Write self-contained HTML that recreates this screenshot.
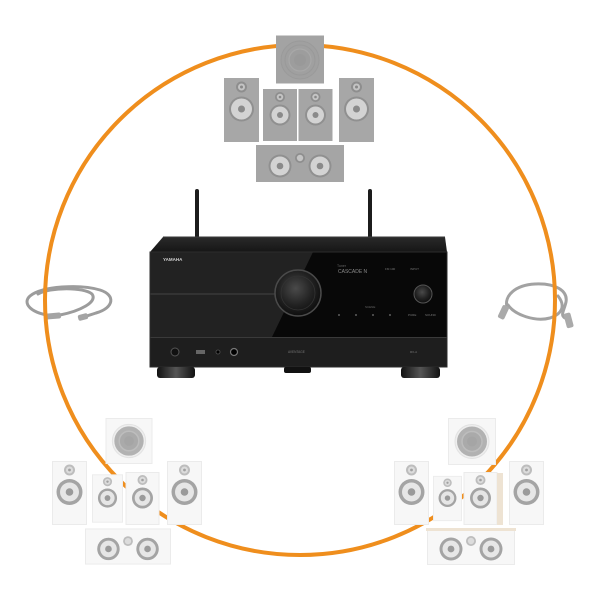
<!DOCTYPE html>
<html><head><meta charset="utf-8"><style>
html,body{margin:0;padding:0;background:#fff;width:600px;height:600px;overflow:hidden}
svg{display:block}
</style></head><body>
<svg width="600" height="600" viewBox="0 0 600 600" xmlns="http://www.w3.org/2000/svg">
<defs>
<radialGradient id="knob" cx="0.45" cy="0.4" r="0.6">
<stop offset="0" stop-color="#4a4a4a"/><stop offset="0.6" stop-color="#222"/><stop offset="1" stop-color="#0e0e0e"/>
</radialGradient>
<linearGradient id="foot" x1="0" y1="0" x2="1" y2="0">
<stop offset="0" stop-color="#111"/><stop offset="0.5" stop-color="#555"/><stop offset="1" stop-color="#111"/>
</linearGradient>
<linearGradient id="top" x1="0" y1="0" x2="0" y2="1">
<stop offset="0" stop-color="#2a2a2a"/><stop offset="1" stop-color="#161616"/>
</linearGradient>

<!-- gray speakers -->
<symbol id="gTall" viewBox="0 0 35 64">
<rect x="0" y="0" width="35" height="64" fill="#a7a7a7"/>
<circle cx="17.5" cy="9" r="5.5" fill="#8e8e8e"/><circle cx="17.5" cy="9" r="3.5" fill="#c4c4c4"/><circle cx="17.5" cy="9" r="1.5" fill="#888"/>
<circle cx="17.5" cy="31" r="12.5" fill="#909090"/><circle cx="17.5" cy="31" r="10.5" fill="#d3d3d3"/><circle cx="17.5" cy="31" r="3.5" fill="#8a8a8a"/>
</symbol>
<symbol id="gMid" viewBox="0 0 34 52">
<rect x="0" y="0" width="34" height="52" fill="#a5a5a5"/>
<circle cx="17" cy="8" r="5" fill="#8e8e8e"/><circle cx="17" cy="8" r="3.2" fill="#c4c4c4"/><circle cx="17" cy="8" r="1.3" fill="#888"/>
<circle cx="17" cy="26" r="10.5" fill="#909090"/><circle cx="17" cy="26" r="8.5" fill="#d3d3d3"/><circle cx="17" cy="26" r="3" fill="#8a8a8a"/>
</symbol>
<symbol id="gCen" viewBox="0 0 88 37">
<rect x="0" y="0" width="88" height="37" fill="#a5a5a5"/>
<circle cx="24" cy="21" r="11.5" fill="#909090"/><circle cx="24" cy="21" r="9.5" fill="#d3d3d3"/><circle cx="24" cy="21" r="3.3" fill="#8a8a8a"/>
<circle cx="64" cy="21" r="11.5" fill="#909090"/><circle cx="64" cy="21" r="9.5" fill="#d3d3d3"/><circle cx="64" cy="21" r="3.3" fill="#8a8a8a"/>
<circle cx="44" cy="13" r="5" fill="#8e8e8e"/><circle cx="44" cy="13" r="3.2" fill="#c4c4c4"/>
</symbol>
<symbol id="gSub" viewBox="0 0 48 48">
<rect x="0" y="0" width="48" height="48" fill="#a3a3a3"/>
<circle cx="24" cy="24.5" r="19" fill="#a0a0a0" stroke="#9a9a9a" stroke-width="1"/>
<circle cx="24" cy="24.5" r="15" fill="none" stroke="#999" stroke-width="1"/>
<circle cx="24" cy="24.5" r="11" fill="#9d9d9d" stroke="#a8a8a8" stroke-width="1.2"/>
<circle cx="24" cy="24.5" r="6" fill="#999"/>
</symbol>

<!-- white speakers -->
<symbol id="wTall" viewBox="0 0 35 64">
<rect x="0.5" y="0.5" width="34" height="63" fill="#f7f7f7" stroke="#ebebeb"/>
<circle cx="17.5" cy="9" r="5.5" fill="#bdbdbd"/><circle cx="17.5" cy="9" r="3.5" fill="#dcdcdc"/><circle cx="17.5" cy="9" r="1.4" fill="#a0a0a0"/>
<circle cx="17.5" cy="31" r="13" fill="#a4a4a4"/><circle cx="17.5" cy="31" r="9.5" fill="#e6e6e6"/><circle cx="17.5" cy="31" r="3.8" fill="#9a9a9a"/>
</symbol>
<symbol id="wMid" viewBox="0 0 34 53">
<rect x="0.5" y="0.5" width="33" height="52" fill="#f7f7f7" stroke="#ebebeb"/>
<circle cx="17" cy="8" r="5" fill="#bdbdbd"/><circle cx="17" cy="8" r="3.2" fill="#dcdcdc"/><circle cx="17" cy="8" r="1.3" fill="#a0a0a0"/>
<circle cx="17" cy="26" r="10.5" fill="#a4a4a4"/><circle cx="17" cy="26" r="7.8" fill="#e6e6e6"/><circle cx="17" cy="26" r="3.2" fill="#9a9a9a"/>
</symbol>
<symbol id="wCen" viewBox="0 0 88 37">
<rect x="0.5" y="0.5" width="87" height="36" fill="#f7f7f7" stroke="#ebebeb"/>
<circle cx="24" cy="21" r="11.5" fill="#a4a4a4"/><circle cx="24" cy="21" r="8.5" fill="#e6e6e6"/><circle cx="24" cy="21" r="3.4" fill="#9a9a9a"/>
<circle cx="64" cy="21" r="11.5" fill="#a4a4a4"/><circle cx="64" cy="21" r="8.5" fill="#e6e6e6"/><circle cx="64" cy="21" r="3.4" fill="#9a9a9a"/>
<circle cx="44" cy="13" r="5" fill="#bdbdbd"/><circle cx="44" cy="13" r="3.2" fill="#dcdcdc"/>
</symbol>
<symbol id="wSub" viewBox="0 0 48 47">
<rect x="0.5" y="0.5" width="47" height="46" fill="#f7f7f7" stroke="#ebebeb"/>
<circle cx="24" cy="23.5" r="17" fill="#eeeeee" stroke="#e2e2e2"/>
<circle cx="24" cy="23.5" r="15" fill="#b2b2b2"/>
<circle cx="24" cy="23.5" r="10" fill="#aaaaaa" stroke="#bdbdbd" stroke-width="1.5"/>
<circle cx="24" cy="23.5" r="5" fill="#a5a5a5"/>
</symbol>
</defs>

<rect width="600" height="600" fill="#fff"/>

<!-- cables -->
<g fill="none" stroke="#9c9c9c" stroke-width="3" stroke-linecap="round">
<path d="M55 316 C30 314 22 303 30 296 C42 286 80 284 100 290 C116 295 114 308 96 313 C90 315 86 316 84 317"/>
<path d="M60 315 C80 311 98 302 92 294 C84 287 50 287 38 294"/>
</g>
<g fill="#a4a4a4">
<rect x="46" y="313" width="15" height="6" rx="2" transform="rotate(-5 53 316)"/>
<rect x="78" y="314" width="10" height="6" rx="2" transform="rotate(-15 83 317)"/>
</g>
<g fill="none" stroke="#a2a2a2" stroke-width="3" stroke-linecap="round">
<path d="M507 307 C504 296 515 285 535 284 C556 283 568 291 566 302 C564 311 560 315 565 318"/>
<path d="M508 305 C515 315 535 322 550 318 C562 314 566 306 558 296"/>
</g>
<g fill="#aaa">
<rect x="500" y="305" width="7" height="14" rx="2" transform="rotate(25 503 312)"/>
<rect x="565" y="313" width="7" height="15" rx="2" transform="rotate(-15 568 320)"/>
</g>

<!-- orange circle -->
<circle cx="300" cy="300" r="255" fill="none" stroke="#ef8e1d" stroke-width="4"/>

<!-- top gray speakers -->
<use href="#gSub" x="276" y="35" width="48" height="49"/>
<use href="#gTall" x="224" y="78" width="35" height="64"/>
<use href="#gMid" x="263" y="89" width="34" height="52"/>
<use href="#gMid" x="297" y="89" width="37" height="52"/>
<use href="#gTall" x="339" y="78" width="35" height="64"/>
<use href="#gCen" x="256" y="145" width="88" height="37"/>

<!-- bottom left white speakers -->
<use href="#wSub" x="105" y="418" width="48" height="46"/>
<use href="#wTall" x="52" y="461" width="35" height="64"/>
<use href="#wMid" x="92" y="472" width="31" height="53"/>
<use href="#wMid" x="123" y="472" width="39" height="53"/>
<use href="#wTall" x="167" y="461" width="35" height="64"/>
<use href="#wCen" x="85" y="528" width="86" height="37"/>

<!-- bottom right white speakers -->
<use href="#wSub" x="447" y="418" width="50" height="47"/>
<use href="#wTall" x="394" y="461" width="35" height="64"/>
<use href="#wMid" x="433" y="472" width="29" height="53"/>
<use href="#wMid" x="462" y="472" width="37" height="53"/>
<rect x="497" y="473" width="6" height="52" fill="#eee3d3"/>
<use href="#wTall" x="509" y="461" width="35" height="64"/>
<use href="#wCen" x="426" y="528" width="90" height="37"/>
<rect x="426" y="528" width="90" height="3" fill="#eee3d3"/>

<!-- receiver -->
<rect x="195" y="189" width="4" height="60" rx="2" fill="#1c1c1c"/>
<rect x="368" y="189" width="4" height="60" rx="2" fill="#1c1c1c"/>
<polygon points="163,237 445,237 447,252 150,252" fill="url(#top)"/>
<line x1="163" y1="237" x2="445" y2="237" stroke="#3a3a3a" stroke-width="1"/>
<rect x="150" y="252" width="297" height="86" fill="#080808"/>
<polygon points="150,252 313,252 272,337 150,337" fill="#222"/>
<line x1="150" y1="294" x2="292" y2="294" stroke="#444" stroke-width="1"/>
<rect x="150" y="337" width="297" height="30" fill="#1e1e1e"/>
<line x1="150" y1="337.5" x2="447" y2="337.5" stroke="#3a3a3a" stroke-width="1"/>
<rect x="150" y="252" width="297" height="115" fill="none" stroke="#2c2c2c" stroke-width="1"/>
<!-- knob -->
<circle cx="298" cy="293" r="23" fill="url(#knob)" stroke="#4a4a4a" stroke-width="1.5"/>
<circle cx="298" cy="293" r="17" fill="none" stroke="#333" stroke-width="0.8"/>
<circle cx="423" cy="294" r="9" fill="url(#knob)" stroke="#555" stroke-width="1"/>
<!-- texts -->
<text x="163" y="261" font-family="Liberation Sans, sans-serif" font-size="4.5" font-weight="bold" fill="#cfcfcf">YAMAHA</text>
<text x="338" y="273" font-family="Liberation Sans, sans-serif" font-size="5" fill="#8a8a8a">CASCADE N</text>
<text x="337" y="267" font-family="Liberation Sans, sans-serif" font-size="3.5" fill="#666">Tuner</text>
<text x="385" y="270" font-family="Liberation Sans, sans-serif" font-size="3" fill="#777">FM 100</text>
<text x="410" y="270" font-family="Liberation Sans, sans-serif" font-size="3" fill="#777">INPUT</text>
<text x="365" y="308" font-family="Liberation Sans, sans-serif" font-size="3" fill="#666">SCENE</text>
<g fill="#777"><circle cx="339" cy="315" r="0.9"/><circle cx="356" cy="315" r="0.9"/><circle cx="373" cy="315" r="0.9"/><circle cx="390" cy="315" r="0.9"/></g>
<text x="408" y="316" font-family="Liberation Sans, sans-serif" font-size="3" fill="#777">PURE</text>
<text x="425" y="316" font-family="Liberation Sans, sans-serif" font-size="3" fill="#777">SOUND</text>
<!-- front strip elements -->
<circle cx="175" cy="352" r="4" fill="#111" stroke="#555" stroke-width="1"/>
<rect x="196" y="350" width="9" height="4" fill="#666"/>
<circle cx="218" cy="352" r="2" fill="#000" stroke="#555" stroke-width="0.8"/>
<circle cx="234" cy="352" r="3.5" fill="#000" stroke="#777" stroke-width="1.2"/>
<text x="288" y="353" font-family="Liberation Sans, sans-serif" font-size="3.2" fill="#777">AVENTAGE</text>
<text x="410" y="353" font-family="Liberation Sans, sans-serif" font-size="3" fill="#777">RX-A</text>
<!-- feet -->
<rect x="157" y="367" width="38" height="11" rx="3" fill="url(#foot)"/>
<rect x="401" y="367" width="39" height="11" rx="3" fill="url(#foot)"/>
<rect x="284" y="367" width="27" height="6" rx="2" fill="#111"/>
</svg>
</body></html>
